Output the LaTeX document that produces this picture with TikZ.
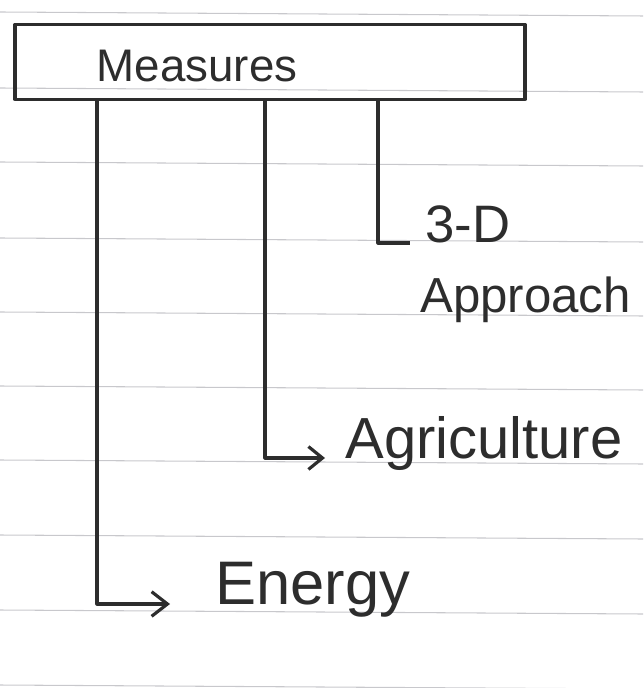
\documentclass[tikz,border=0pt]{standalone}
\usepackage{fontspec}
\setmainfont{Liberation Sans}
\usetikzlibrary{arrows.meta,calc,positioning}
\definecolor{InkGray}{RGB}{45,45,45}
\definecolor{RuleGray}{RGB}{200,200,204}
\begin{document}
\begin{tikzpicture}[x=0.02cm,y=-0.02cm,
  ink/.style={line width=1.8pt,InkGray,line join=round},
  word/.style={font=\fontsize{#1}{36}\selectfont,InkGray,anchor=base west,inner sep=0pt}]
\useasboundingbox (0,0) rectangle (643,688);
% ruled paper
\foreach \y in {12,88,162,238,312,386,460,535,610,685}{\draw[RuleGray,line width=.6pt] (0,\y)--++(643,4);}
\node[ink,draw,minimum width=10.2cm,minimum height=1.5cm,inner sep=0pt] (measures) at (270,62){};
\node[font=\fontsize{26}{30}\selectfont,InkGray] at (197,66){Measures};
\coordinate (e0) at (97,100);\coordinate (a0) at (265,100);\coordinate (d0) at (378,100);
\node[word=35] (energy) at (215,604){Energy};
\node[word=33] (agri) at (345,458){Agriculture};
\node[word=30] (threed) at (425,243){3-D};
\node[word=28] (approach) at (420,313){Approach};
\draw[ink,-{Straight Barb[length=9pt,width=14pt]},shorten >=0.9cm] (e0) |- (energy.base west);
\draw[ink,-{Straight Barb[length=8pt,width=13pt]},shorten >=0.4cm] (a0) |- (agri.base west);
\draw[ink,shorten >=0.3cm] (d0) |- (threed.base west);
\end{tikzpicture}
\end{document}
